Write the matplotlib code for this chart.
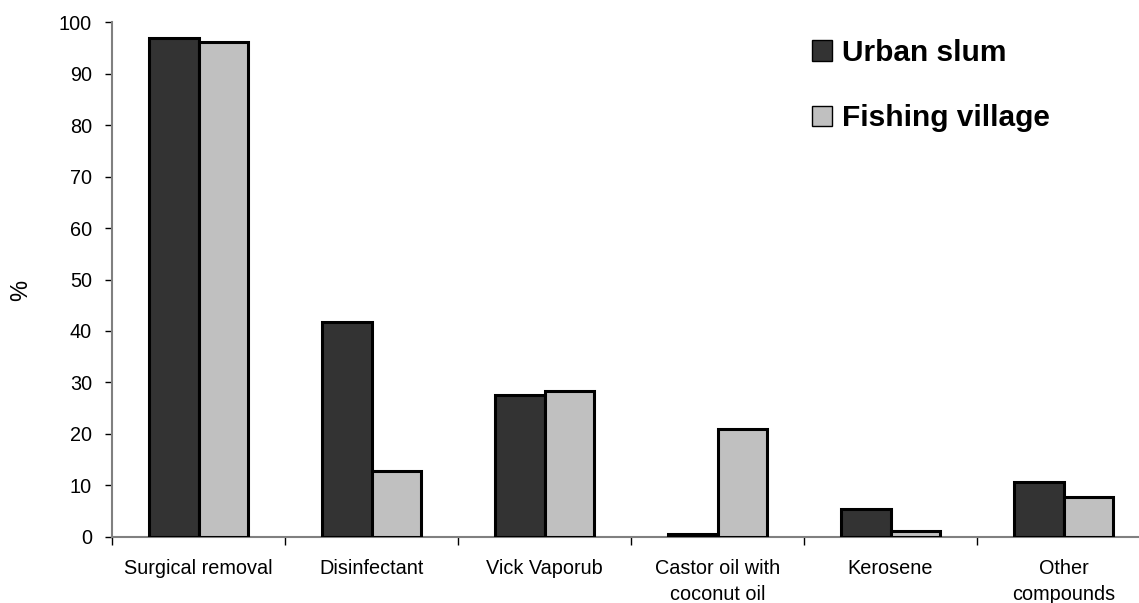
import matplotlib
matplotlib.use("Agg")
import matplotlib.pyplot as plt
from matplotlib.patches import Patch
import numpy as np

plt.rcParams["font.family"] = ["Liberation Sans", "DejaVu Sans"]

categories = ["Surgical removal", "Disinfectant", "Vick Vaporub",
              "Castor oil with\ncoconut oil", "Kerosene", "Other\ncompounds"]
urban_slum = [97.0, 41.8, 27.5, 0.6, 5.3, 10.7]
fishing_village = [96.2, 12.8, 28.3, 21.0, 1.2, 7.8]
series_names = ["Urban slum", "Fishing village"]
y_ticks = list(range(0, 101, 10))

dark = "#333333"
light = "#c0c0c0"

W, H = 1139, 603
fig = plt.figure(figsize=(W / 100, H / 100), dpi=100)
left_px, right_px = 112, 1150
bottom_px, top_px = 536.7, 22.3
ax = fig.add_axes([left_px / W, 1 - bottom_px / H,
                   (right_px - left_px) / W, (bottom_px - top_px) / H])

x = np.arange(len(categories))
bw = 0.286
ax.bar(x - bw / 2, urban_slum, bw, color=dark, edgecolor="black",
       linewidth=2.2, zorder=3)
ax.bar(x + bw / 2, fishing_village, bw, color=light, edgecolor="black",
       linewidth=2.2, zorder=3)

ax.set_xlim(-0.5, len(categories) - 0.5)
ax.set_ylim(0, 100)
ax.set_yticks(y_ticks)
ax.tick_params(axis="y", labelsize=14.3, length=5, width=1, color="black",
               pad=9.5)

# category boundaries carry the ticks, labels sit between them
ax.set_xticks(np.arange(-0.5, len(categories), 1.0))
ax.set_xticklabels([])
ax.set_xticks(x, minor=True)
ax.set_xticklabels(categories, minor=True, fontsize=14.3, linespacing=1.45)
ax.tick_params(axis="x", which="major", length=6, width=1, color="black")
ax.tick_params(axis="x", which="minor", length=0, pad=16)

for side in ("top", "right"):
    ax.spines[side].set_visible(False)
for side in ("left", "bottom"):
    ax.spines[side].set_color("#808080")
    ax.spines[side].set_linewidth(1.5)
    ax.spines[side].set_zorder(2)

fig.text(21 / W, 1 - 290 / H, "%", rotation=90, fontsize=17,
         ha="center", va="center")

handles = [Patch(facecolor=dark, edgecolor="black", linewidth=1),
           Patch(facecolor=light, edgecolor="black", linewidth=1)]
fig.legend(handles, series_names, loc="upper left",
           bbox_to_anchor=(812 / W, 1 - 39 / H), frameon=False,
           prop={"size": 21.5, "weight": "bold"}, handlelength=0.68,
           handleheight=0.68, handletextpad=0.33, labelspacing=1.25,
           borderpad=0, borderaxespad=0)

fig.savefig("out.png", dpi=100)
